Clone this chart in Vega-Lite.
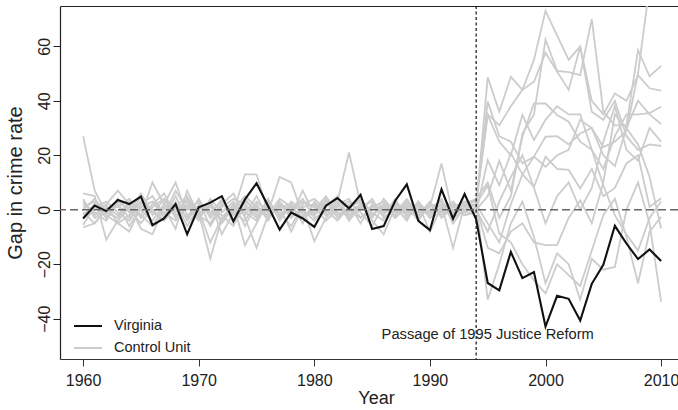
{
"$schema": "https://vega.github.io/schema/vega-lite/v6.json",
"width": 618,
"height": 353,
"autosize": {"type": "none"},
"padding": {"left": 60, "top": 6, "right": 0, "bottom": 51},
"background": "white",
"config": {"view": {"stroke": null}, "font": "Liberation Sans"},
"resolve": {"axis": {"x": "independent"}},
"datasets": {
"virginia": [
{"year":1960,"gap":-3.2},{"year":1961,"gap":1.5},{"year":1962,"gap":-0.5},{"year":1963,"gap":3.6},{"year":1964,"gap":2.1},{"year":1965,"gap":4.8},{"year":1966,"gap":-5.7},{"year":1967,"gap":-3.2},{"year":1968,"gap":2.1},{"year":1969,"gap":-9},{"year":1970,"gap":0.9},{"year":1971,"gap":2.6},{"year":1972,"gap":5},{"year":1973,"gap":-4.2},{"year":1974,"gap":3.8},{"year":1975,"gap":9.7},{"year":1976,"gap":1.4},{"year":1977,"gap":-7.3},{"year":1978,"gap":-1},{"year":1979,"gap":-3.2},{"year":1980,"gap":-6.3},{"year":1981,"gap":1.5},{"year":1982,"gap":4.3},{"year":1983,"gap":0.5},{"year":1984,"gap":5.5},{"year":1985,"gap":-7.1},{"year":1986,"gap":-6},{"year":1987,"gap":3.3},{"year":1988,"gap":9.3},{"year":1989,"gap":-4.1},{"year":1990,"gap":-7.5},{"year":1991,"gap":7.5},{"year":1992,"gap":-3.3},{"year":1993,"gap":5.8},{"year":1994,"gap":-3.5},{"year":1995,"gap":-26.9},{"year":1996,"gap":-29.6},{"year":1997,"gap":-15.5},{"year":1998,"gap":-25.1},{"year":1999,"gap":-22.9},{"year":2000,"gap":-42.9},{"year":2001,"gap":-31.6},{"year":2002,"gap":-32.7},{"year":2003,"gap":-40.7},{"year":2004,"gap":-27.2},{"year":2005,"gap":-20.2},{"year":2006,"gap":-5.9},{"year":2007,"gap":-12.4},{"year":2008,"gap":-18.1},{"year":2009,"gap":-14.6},{"year":2010,"gap":-18.8}
],
"controls": [
{"unit":"c1","year":1960,"gap":27},{"unit":"c1","year":1961,"gap":7},{"unit":"c1","year":1962,"gap":-1},{"unit":"c1","year":1963,"gap":2},{"unit":"c1","year":1964,"gap":-3},{"unit":"c1","year":1965,"gap":5},{"unit":"c1","year":1966,"gap":-2},{"unit":"c1","year":1967,"gap":4},{"unit":"c1","year":1968,"gap":0},{"unit":"c1","year":1969,"gap":3},{"unit":"c1","year":1970,"gap":-1},{"unit":"c1","year":1971,"gap":-18},{"unit":"c1","year":1972,"gap":-3},{"unit":"c1","year":1973,"gap":2},{"unit":"c1","year":1974,"gap":-13},{"unit":"c1","year":1975,"gap":-5},{"unit":"c1","year":1976,"gap":3},{"unit":"c1","year":1977,"gap":-2},{"unit":"c1","year":1978,"gap":1},{"unit":"c1","year":1979,"gap":-3},{"unit":"c1","year":1980,"gap":2},{"unit":"c1","year":1981,"gap":-1},{"unit":"c1","year":1982,"gap":3},{"unit":"c1","year":1983,"gap":21},{"unit":"c1","year":1984,"gap":2},{"unit":"c1","year":1985,"gap":-2},{"unit":"c1","year":1986,"gap":1},{"unit":"c1","year":1987,"gap":-3},{"unit":"c1","year":1988,"gap":2},{"unit":"c1","year":1989,"gap":-1},{"unit":"c1","year":1990,"gap":1},{"unit":"c1","year":1991,"gap":17},{"unit":"c1","year":1992,"gap":-2},{"unit":"c1","year":1993,"gap":1},{"unit":"c1","year":1994,"gap":2},{"unit":"c1","year":1995,"gap":35},{"unit":"c1","year":1996,"gap":31},{"unit":"c1","year":1997,"gap":38},{"unit":"c1","year":1998,"gap":44},{"unit":"c1","year":1999,"gap":55},{"unit":"c1","year":2000,"gap":73},{"unit":"c1","year":2001,"gap":64},{"unit":"c1","year":2002,"gap":55},{"unit":"c1","year":2003,"gap":60},{"unit":"c1","year":2004,"gap":36},{"unit":"c1","year":2005,"gap":33},{"unit":"c1","year":2006,"gap":40},{"unit":"c1","year":2007,"gap":27},{"unit":"c1","year":2008,"gap":22},{"unit":"c1","year":2009,"gap":24},{"unit":"c1","year":2010,"gap":23.4},
{"unit":"c2","year":1960,"gap":6},{"unit":"c2","year":1961,"gap":5},{"unit":"c2","year":1962,"gap":-11},{"unit":"c2","year":1963,"gap":-4},{"unit":"c2","year":1964,"gap":1},{"unit":"c2","year":1965,"gap":-2},{"unit":"c2","year":1966,"gap":10},{"unit":"c2","year":1967,"gap":2},{"unit":"c2","year":1968,"gap":10},{"unit":"c2","year":1969,"gap":-2},{"unit":"c2","year":1970,"gap":0},{"unit":"c2","year":1971,"gap":3},{"unit":"c2","year":1972,"gap":-9},{"unit":"c2","year":1973,"gap":-1},{"unit":"c2","year":1974,"gap":13},{"unit":"c2","year":1975,"gap":13},{"unit":"c2","year":1976,"gap":-1},{"unit":"c2","year":1977,"gap":12},{"unit":"c2","year":1978,"gap":10},{"unit":"c2","year":1979,"gap":-2},{"unit":"c2","year":1980,"gap":-1},{"unit":"c2","year":1981,"gap":4},{"unit":"c2","year":1982,"gap":-2},{"unit":"c2","year":1983,"gap":0},{"unit":"c2","year":1984,"gap":-3},{"unit":"c2","year":1985,"gap":1},{"unit":"c2","year":1986,"gap":3},{"unit":"c2","year":1987,"gap":-1},{"unit":"c2","year":1988,"gap":4},{"unit":"c2","year":1989,"gap":-2},{"unit":"c2","year":1990,"gap":0},{"unit":"c2","year":1991,"gap":2},{"unit":"c2","year":1992,"gap":-14},{"unit":"c2","year":1993,"gap":2},{"unit":"c2","year":1994,"gap":4},{"unit":"c2","year":1995,"gap":10},{"unit":"c2","year":1996,"gap":-3},{"unit":"c2","year":1997,"gap":5},{"unit":"c2","year":1998,"gap":28},{"unit":"c2","year":1999,"gap":35},{"unit":"c2","year":2000,"gap":62.5},{"unit":"c2","year":2001,"gap":51},{"unit":"c2","year":2002,"gap":50.5},{"unit":"c2","year":2003,"gap":49.4},{"unit":"c2","year":2004,"gap":70},{"unit":"c2","year":2005,"gap":36},{"unit":"c2","year":2006,"gap":31},{"unit":"c2","year":2007,"gap":31},{"unit":"c2","year":2008,"gap":58.6},{"unit":"c2","year":2009,"gap":49},{"unit":"c2","year":2010,"gap":52.8},
{"unit":"c3","year":1960,"gap":3},{"unit":"c3","year":1961,"gap":-2},{"unit":"c3","year":1962,"gap":2},{"unit":"c3","year":1963,"gap":7},{"unit":"c3","year":1964,"gap":2},{"unit":"c3","year":1965,"gap":-7},{"unit":"c3","year":1966,"gap":-9},{"unit":"c3","year":1967,"gap":1},{"unit":"c3","year":1968,"gap":-7},{"unit":"c3","year":1969,"gap":7},{"unit":"c3","year":1970,"gap":-2},{"unit":"c3","year":1971,"gap":-5},{"unit":"c3","year":1972,"gap":2},{"unit":"c3","year":1973,"gap":6},{"unit":"c3","year":1974,"gap":-3},{"unit":"c3","year":1975,"gap":-14},{"unit":"c3","year":1976,"gap":-2},{"unit":"c3","year":1977,"gap":1},{"unit":"c3","year":1978,"gap":-8},{"unit":"c3","year":1979,"gap":1},{"unit":"c3","year":1980,"gap":-11.5},{"unit":"c3","year":1981,"gap":-3},{"unit":"c3","year":1982,"gap":2},{"unit":"c3","year":1983,"gap":-2},{"unit":"c3","year":1984,"gap":1},{"unit":"c3","year":1985,"gap":3},{"unit":"c3","year":1986,"gap":-1},{"unit":"c3","year":1987,"gap":2},{"unit":"c3","year":1988,"gap":-2},{"unit":"c3","year":1989,"gap":3},{"unit":"c3","year":1990,"gap":-3},{"unit":"c3","year":1991,"gap":-1},{"unit":"c3","year":1992,"gap":2},{"unit":"c3","year":1993,"gap":-1},{"unit":"c3","year":1994,"gap":1},{"unit":"c3","year":1995,"gap":48.6},{"unit":"c3","year":1996,"gap":36},{"unit":"c3","year":1997,"gap":48.8},{"unit":"c3","year":1998,"gap":44},{"unit":"c3","year":1999,"gap":47},{"unit":"c3","year":2000,"gap":57.6},{"unit":"c3","year":2001,"gap":50.7},{"unit":"c3","year":2002,"gap":44},{"unit":"c3","year":2003,"gap":59.9},{"unit":"c3","year":2004,"gap":40},{"unit":"c3","year":2005,"gap":35},{"unit":"c3","year":2006,"gap":42.7},{"unit":"c3","year":2007,"gap":40},{"unit":"c3","year":2008,"gap":49.4},{"unit":"c3","year":2009,"gap":44.6},{"unit":"c3","year":2010,"gap":43.7},
{"unit":"c4","year":1960,"gap":1},{"unit":"c4","year":1961,"gap":3},{"unit":"c4","year":1962,"gap":-2},{"unit":"c4","year":1963,"gap":-5},{"unit":"c4","year":1964,"gap":-8},{"unit":"c4","year":1965,"gap":1},{"unit":"c4","year":1966,"gap":3},{"unit":"c4","year":1967,"gap":-3},{"unit":"c4","year":1968,"gap":5},{"unit":"c4","year":1969,"gap":-4},{"unit":"c4","year":1970,"gap":2},{"unit":"c4","year":1971,"gap":-2},{"unit":"c4","year":1972,"gap":4},{"unit":"c4","year":1973,"gap":-5},{"unit":"c4","year":1974,"gap":1},{"unit":"c4","year":1975,"gap":-3},{"unit":"c4","year":1976,"gap":4},{"unit":"c4","year":1977,"gap":-4},{"unit":"c4","year":1978,"gap":2},{"unit":"c4","year":1979,"gap":-5},{"unit":"c4","year":1980,"gap":3},{"unit":"c4","year":1981,"gap":-2},{"unit":"c4","year":1982,"gap":1},{"unit":"c4","year":1983,"gap":3},{"unit":"c4","year":1984,"gap":-1},{"unit":"c4","year":1985,"gap":-6},{"unit":"c4","year":1986,"gap":2},{"unit":"c4","year":1987,"gap":0},{"unit":"c4","year":1988,"gap":1},{"unit":"c4","year":1989,"gap":-3},{"unit":"c4","year":1990,"gap":2},{"unit":"c4","year":1991,"gap":-2},{"unit":"c4","year":1992,"gap":1},{"unit":"c4","year":1993,"gap":3},{"unit":"c4","year":1994,"gap":3},{"unit":"c4","year":1995,"gap":39.7},{"unit":"c4","year":1996,"gap":27},{"unit":"c4","year":1997,"gap":25},{"unit":"c4","year":1998,"gap":17},{"unit":"c4","year":1999,"gap":19.5},{"unit":"c4","year":2000,"gap":15.8},{"unit":"c4","year":2001,"gap":20},{"unit":"c4","year":2002,"gap":22},{"unit":"c4","year":2003,"gap":33},{"unit":"c4","year":2004,"gap":30},{"unit":"c4","year":2005,"gap":23},{"unit":"c4","year":2006,"gap":25},{"unit":"c4","year":2007,"gap":29},{"unit":"c4","year":2008,"gap":50},{"unit":"c4","year":2009,"gap":82},{"unit":"c4","year":2010,"gap":90},
{"unit":"c5","year":1960,"gap":-1},{"unit":"c5","year":1961,"gap":-5},{"unit":"c5","year":1962,"gap":0},{"unit":"c5","year":1963,"gap":1},{"unit":"c5","year":1964,"gap":4},{"unit":"c5","year":1965,"gap":-3},{"unit":"c5","year":1966,"gap":2},{"unit":"c5","year":1967,"gap":6},{"unit":"c5","year":1968,"gap":-2},{"unit":"c5","year":1969,"gap":1},{"unit":"c5","year":1970,"gap":-4},{"unit":"c5","year":1971,"gap":4},{"unit":"c5","year":1972,"gap":-1},{"unit":"c5","year":1973,"gap":3},{"unit":"c5","year":1974,"gap":-6},{"unit":"c5","year":1975,"gap":2},{"unit":"c5","year":1976,"gap":-4},{"unit":"c5","year":1977,"gap":3},{"unit":"c5","year":1978,"gap":-2},{"unit":"c5","year":1979,"gap":7},{"unit":"c5","year":1980,"gap":-2},{"unit":"c5","year":1981,"gap":3},{"unit":"c5","year":1982,"gap":-3},{"unit":"c5","year":1983,"gap":1},{"unit":"c5","year":1984,"gap":4},{"unit":"c5","year":1985,"gap":-1},{"unit":"c5","year":1986,"gap":-4},{"unit":"c5","year":1987,"gap":3},{"unit":"c5","year":1988,"gap":-1},{"unit":"c5","year":1989,"gap":2},{"unit":"c5","year":1990,"gap":-8},{"unit":"c5","year":1991,"gap":1},{"unit":"c5","year":1992,"gap":-3},{"unit":"c5","year":1993,"gap":0},{"unit":"c5","year":1994,"gap":0},{"unit":"c5","year":1995,"gap":5},{"unit":"c5","year":1996,"gap":18},{"unit":"c5","year":1997,"gap":7},{"unit":"c5","year":1998,"gap":26.8},{"unit":"c5","year":1999,"gap":39},{"unit":"c5","year":2000,"gap":39},{"unit":"c5","year":2001,"gap":34.8},{"unit":"c5","year":2002,"gap":32.3},{"unit":"c5","year":2003,"gap":25},{"unit":"c5","year":2004,"gap":22},{"unit":"c5","year":2005,"gap":15},{"unit":"c5","year":2006,"gap":27},{"unit":"c5","year":2007,"gap":35},{"unit":"c5","year":2008,"gap":35},{"unit":"c5","year":2009,"gap":35.5},{"unit":"c5","year":2010,"gap":37.8},
{"unit":"c6","year":1960,"gap":-2},{"unit":"c6","year":1961,"gap":2},{"unit":"c6","year":1962,"gap":-3},{"unit":"c6","year":1963,"gap":4},{"unit":"c6","year":1964,"gap":-1},{"unit":"c6","year":1965,"gap":6},{"unit":"c6","year":1966,"gap":-1},{"unit":"c6","year":1967,"gap":-4},{"unit":"c6","year":1968,"gap":3},{"unit":"c6","year":1969,"gap":-6},{"unit":"c6","year":1970,"gap":1},{"unit":"c6","year":1971,"gap":-1},{"unit":"c6","year":1972,"gap":3},{"unit":"c6","year":1973,"gap":-2},{"unit":"c6","year":1974,"gap":4},{"unit":"c6","year":1975,"gap":-1},{"unit":"c6","year":1976,"gap":2},{"unit":"c6","year":1977,"gap":-3},{"unit":"c6","year":1978,"gap":3},{"unit":"c6","year":1979,"gap":0},{"unit":"c6","year":1980,"gap":-4},{"unit":"c6","year":1981,"gap":1},{"unit":"c6","year":1982,"gap":5},{"unit":"c6","year":1983,"gap":-3},{"unit":"c6","year":1984,"gap":2},{"unit":"c6","year":1985,"gap":0},{"unit":"c6","year":1986,"gap":1},{"unit":"c6","year":1987,"gap":-2},{"unit":"c6","year":1988,"gap":3},{"unit":"c6","year":1989,"gap":-1},{"unit":"c6","year":1990,"gap":1},{"unit":"c6","year":1991,"gap":3},{"unit":"c6","year":1992,"gap":-1},{"unit":"c6","year":1993,"gap":2},{"unit":"c6","year":1994,"gap":2},{"unit":"c6","year":1995,"gap":-5},{"unit":"c6","year":1996,"gap":-12},{"unit":"c6","year":1997,"gap":2},{"unit":"c6","year":1998,"gap":13},{"unit":"c6","year":1999,"gap":19.5},{"unit":"c6","year":2000,"gap":26.8},{"unit":"c6","year":2001,"gap":27},{"unit":"c6","year":2002,"gap":24},{"unit":"c6","year":2003,"gap":28},{"unit":"c6","year":2004,"gap":30},{"unit":"c6","year":2005,"gap":20},{"unit":"c6","year":2006,"gap":16},{"unit":"c6","year":2007,"gap":30},{"unit":"c6","year":2008,"gap":40},{"unit":"c6","year":2009,"gap":35},{"unit":"c6","year":2010,"gap":31.5},
{"unit":"c7","year":1960,"gap":-6.5},{"unit":"c7","year":1961,"gap":-5},{"unit":"c7","year":1962,"gap":1},{"unit":"c7","year":1963,"gap":-2},{"unit":"c7","year":1964,"gap":3},{"unit":"c7","year":1965,"gap":0},{"unit":"c7","year":1966,"gap":-4},{"unit":"c7","year":1967,"gap":2},{"unit":"c7","year":1968,"gap":-1},{"unit":"c7","year":1969,"gap":4},{"unit":"c7","year":1970,"gap":-3},{"unit":"c7","year":1971,"gap":2},{"unit":"c7","year":1972,"gap":-5},{"unit":"c7","year":1973,"gap":1},{"unit":"c7","year":1974,"gap":-2},{"unit":"c7","year":1975,"gap":5},{"unit":"c7","year":1976,"gap":-3},{"unit":"c7","year":1977,"gap":2},{"unit":"c7","year":1978,"gap":-1},{"unit":"c7","year":1979,"gap":3},{"unit":"c7","year":1980,"gap":1},{"unit":"c7","year":1981,"gap":-4},{"unit":"c7","year":1982,"gap":0},{"unit":"c7","year":1983,"gap":2},{"unit":"c7","year":1984,"gap":-5},{"unit":"c7","year":1985,"gap":2},{"unit":"c7","year":1986,"gap":-2},{"unit":"c7","year":1987,"gap":4},{"unit":"c7","year":1988,"gap":-3},{"unit":"c7","year":1989,"gap":1},{"unit":"c7","year":1990,"gap":-1},{"unit":"c7","year":1991,"gap":0},{"unit":"c7","year":1992,"gap":3},{"unit":"c7","year":1993,"gap":-2},{"unit":"c7","year":1994,"gap":-1},{"unit":"c7","year":1995,"gap":18.2},{"unit":"c7","year":1996,"gap":9},{"unit":"c7","year":1997,"gap":20.7},{"unit":"c7","year":1998,"gap":13},{"unit":"c7","year":1999,"gap":8.4},{"unit":"c7","year":2000,"gap":19.5},{"unit":"c7","year":2001,"gap":15},{"unit":"c7","year":2002,"gap":14.6},{"unit":"c7","year":2003,"gap":7.8},{"unit":"c7","year":2004,"gap":15},{"unit":"c7","year":2005,"gap":5},{"unit":"c7","year":2006,"gap":8},{"unit":"c7","year":2007,"gap":17},{"unit":"c7","year":2008,"gap":20},{"unit":"c7","year":2009,"gap":1},{"unit":"c7","year":2010,"gap":4.2},
{"unit":"c8","year":1960,"gap":-5.5},{"unit":"c8","year":1961,"gap":1},{"unit":"c8","year":1962,"gap":3},{"unit":"c8","year":1963,"gap":-1},{"unit":"c8","year":1964,"gap":-4},{"unit":"c8","year":1965,"gap":2},{"unit":"c8","year":1966,"gap":5},{"unit":"c8","year":1967,"gap":-2},{"unit":"c8","year":1968,"gap":7},{"unit":"c8","year":1969,"gap":0},{"unit":"c8","year":1970,"gap":3},{"unit":"c8","year":1971,"gap":-6},{"unit":"c8","year":1972,"gap":1},{"unit":"c8","year":1973,"gap":4},{"unit":"c8","year":1974,"gap":2},{"unit":"c8","year":1975,"gap":-2},{"unit":"c8","year":1976,"gap":1},{"unit":"c8","year":1977,"gap":-1},{"unit":"c8","year":1978,"gap":-6},{"unit":"c8","year":1979,"gap":2},{"unit":"c8","year":1980,"gap":4},{"unit":"c8","year":1981,"gap":0},{"unit":"c8","year":1982,"gap":-4},{"unit":"c8","year":1983,"gap":1},{"unit":"c8","year":1984,"gap":3},{"unit":"c8","year":1985,"gap":-3},{"unit":"c8","year":1986,"gap":4},{"unit":"c8","year":1987,"gap":-1},{"unit":"c8","year":1988,"gap":2},{"unit":"c8","year":1989,"gap":-2},{"unit":"c8","year":1990,"gap":3},{"unit":"c8","year":1991,"gap":-3},{"unit":"c8","year":1992,"gap":1},{"unit":"c8","year":1993,"gap":-1},{"unit":"c8","year":1994,"gap":1},{"unit":"c8","year":1995,"gap":-14},{"unit":"c8","year":1996,"gap":-16},{"unit":"c8","year":1997,"gap":-8},{"unit":"c8","year":1998,"gap":-5},{"unit":"c8","year":1999,"gap":-12},{"unit":"c8","year":2000,"gap":-13},{"unit":"c8","year":2001,"gap":-13},{"unit":"c8","year":2002,"gap":-3},{"unit":"c8","year":2003,"gap":3.5},{"unit":"c8","year":2004,"gap":-5},{"unit":"c8","year":2005,"gap":10},{"unit":"c8","year":2006,"gap":35},{"unit":"c8","year":2007,"gap":30},{"unit":"c8","year":2008,"gap":24},{"unit":"c8","year":2009,"gap":12},{"unit":"c8","year":2010,"gap":-6.9},
{"unit":"c9","year":1960,"gap":2},{"unit":"c9","year":1961,"gap":-1},{"unit":"c9","year":1962,"gap":-4},{"unit":"c9","year":1963,"gap":3},{"unit":"c9","year":1964,"gap":0},{"unit":"c9","year":1965,"gap":-5},{"unit":"c9","year":1966,"gap":1},{"unit":"c9","year":1967,"gap":4},{"unit":"c9","year":1968,"gap":-3},{"unit":"c9","year":1969,"gap":2},{"unit":"c9","year":1970,"gap":-1},{"unit":"c9","year":1971,"gap":1},{"unit":"c9","year":1972,"gap":-2},{"unit":"c9","year":1973,"gap":-6},{"unit":"c9","year":1974,"gap":3},{"unit":"c9","year":1975,"gap":0},{"unit":"c9","year":1976,"gap":-2},{"unit":"c9","year":1977,"gap":4},{"unit":"c9","year":1978,"gap":1},{"unit":"c9","year":1979,"gap":-3},{"unit":"c9","year":1980,"gap":0},{"unit":"c9","year":1981,"gap":5},{"unit":"c9","year":1982,"gap":-1},{"unit":"c9","year":1983,"gap":-2},{"unit":"c9","year":1984,"gap":0},{"unit":"c9","year":1985,"gap":4},{"unit":"c9","year":1986,"gap":-3},{"unit":"c9","year":1987,"gap":1},{"unit":"c9","year":1988,"gap":-4},{"unit":"c9","year":1989,"gap":3},{"unit":"c9","year":1990,"gap":-2},{"unit":"c9","year":1991,"gap":2},{"unit":"c9","year":1992,"gap":-2},{"unit":"c9","year":1993,"gap":3},{"unit":"c9","year":1994,"gap":3},{"unit":"c9","year":1995,"gap":-33},{"unit":"c9","year":1996,"gap":-20},{"unit":"c9","year":1997,"gap":-5},{"unit":"c9","year":1998,"gap":3},{"unit":"c9","year":1999,"gap":-10},{"unit":"c9","year":2000,"gap":-27},{"unit":"c9","year":2001,"gap":-16},{"unit":"c9","year":2002,"gap":-20},{"unit":"c9","year":2003,"gap":-33},{"unit":"c9","year":2004,"gap":-18},{"unit":"c9","year":2005,"gap":-22},{"unit":"c9","year":2006,"gap":-21},{"unit":"c9","year":2007,"gap":0},{"unit":"c9","year":2008,"gap":10},{"unit":"c9","year":2009,"gap":-5},{"unit":"c9","year":2010,"gap":-33.8},
{"unit":"c10","year":1960,"gap":0},{"unit":"c10","year":1961,"gap":4},{"unit":"c10","year":1962,"gap":-1},{"unit":"c10","year":1963,"gap":-3},{"unit":"c10","year":1964,"gap":2},{"unit":"c10","year":1965,"gap":-2},{"unit":"c10","year":1966,"gap":-6},{"unit":"c10","year":1967,"gap":1},{"unit":"c10","year":1968,"gap":2},{"unit":"c10","year":1969,"gap":-3},{"unit":"c10","year":1970,"gap":4},{"unit":"c10","year":1971,"gap":-3},{"unit":"c10","year":1972,"gap":2},{"unit":"c10","year":1973,"gap":-1},{"unit":"c10","year":1974,"gap":-4},{"unit":"c10","year":1975,"gap":3},{"unit":"c10","year":1976,"gap":-1},{"unit":"c10","year":1977,"gap":1},{"unit":"c10","year":1978,"gap":2},{"unit":"c10","year":1979,"gap":-1},{"unit":"c10","year":1980,"gap":-2},{"unit":"c10","year":1981,"gap":2},{"unit":"c10","year":1982,"gap":3},{"unit":"c10","year":1983,"gap":-4},{"unit":"c10","year":1984,"gap":1},{"unit":"c10","year":1985,"gap":-2},{"unit":"c10","year":1986,"gap":2},{"unit":"c10","year":1987,"gap":-3},{"unit":"c10","year":1988,"gap":1},{"unit":"c10","year":1989,"gap":-4},{"unit":"c10","year":1990,"gap":2},{"unit":"c10","year":1991,"gap":-1},{"unit":"c10","year":1992,"gap":2},{"unit":"c10","year":1993,"gap":0},{"unit":"c10","year":1994,"gap":2},{"unit":"c10","year":1995,"gap":9},{"unit":"c10","year":1996,"gap":-8.7},{"unit":"c10","year":1997,"gap":-12},{"unit":"c10","year":1998,"gap":-20},{"unit":"c10","year":1999,"gap":-26},{"unit":"c10","year":2000,"gap":-30.7},{"unit":"c10","year":2001,"gap":-20},{"unit":"c10","year":2002,"gap":-24},{"unit":"c10","year":2003,"gap":-28},{"unit":"c10","year":2004,"gap":-15},{"unit":"c10","year":2005,"gap":-2},{"unit":"c10","year":2006,"gap":4},{"unit":"c10","year":2007,"gap":-10},{"unit":"c10","year":2008,"gap":-27},{"unit":"c10","year":2009,"gap":-8},{"unit":"c10","year":2010,"gap":-2.6},
{"unit":"c11","year":1960,"gap":-3},{"unit":"c11","year":1961,"gap":0},{"unit":"c11","year":1962,"gap":2},{"unit":"c11","year":1963,"gap":-5},{"unit":"c11","year":1964,"gap":-2},{"unit":"c11","year":1965,"gap":3},{"unit":"c11","year":1966,"gap":0},{"unit":"c11","year":1967,"gap":-4},{"unit":"c11","year":1968,"gap":1},{"unit":"c11","year":1969,"gap":5},{"unit":"c11","year":1970,"gap":-2},{"unit":"c11","year":1971,"gap":3},{"unit":"c11","year":1972,"gap":-4},{"unit":"c11","year":1973,"gap":2},{"unit":"c11","year":1974,"gap":-1},{"unit":"c11","year":1975,"gap":-4},{"unit":"c11","year":1976,"gap":3},{"unit":"c11","year":1977,"gap":-2},{"unit":"c11","year":1978,"gap":0},{"unit":"c11","year":1979,"gap":4},{"unit":"c11","year":1980,"gap":-3},{"unit":"c11","year":1981,"gap":-1},{"unit":"c11","year":1982,"gap":2},{"unit":"c11","year":1983,"gap":4},{"unit":"c11","year":1984,"gap":-3},{"unit":"c11","year":1985,"gap":1},{"unit":"c11","year":1986,"gap":0},{"unit":"c11","year":1987,"gap":2},{"unit":"c11","year":1988,"gap":-2},{"unit":"c11","year":1989,"gap":1},{"unit":"c11","year":1990,"gap":-1},{"unit":"c11","year":1991,"gap":4},{"unit":"c11","year":1992,"gap":-5},{"unit":"c11","year":1993,"gap":1},{"unit":"c11","year":1994,"gap":4},{"unit":"c11","year":1995,"gap":34.8},{"unit":"c11","year":1996,"gap":25},{"unit":"c11","year":1997,"gap":20},{"unit":"c11","year":1998,"gap":34.8},{"unit":"c11","year":1999,"gap":25.6},{"unit":"c11","year":2000,"gap":33},{"unit":"c11","year":2001,"gap":38},{"unit":"c11","year":2002,"gap":35},{"unit":"c11","year":2003,"gap":35},{"unit":"c11","year":2004,"gap":22},{"unit":"c11","year":2005,"gap":9},{"unit":"c11","year":2006,"gap":-2},{"unit":"c11","year":2007,"gap":-9},{"unit":"c11","year":2008,"gap":-15},{"unit":"c11","year":2009,"gap":-3},{"unit":"c11","year":2010,"gap":3},
{"unit":"c12","year":1960,"gap":4},{"unit":"c12","year":1961,"gap":-3},{"unit":"c12","year":1962,"gap":0},{"unit":"c12","year":1963,"gap":2},{"unit":"c12","year":1964,"gap":-6},{"unit":"c12","year":1965,"gap":1},{"unit":"c12","year":1966,"gap":3},{"unit":"c12","year":1967,"gap":-1},{"unit":"c12","year":1968,"gap":-4},{"unit":"c12","year":1969,"gap":1},{"unit":"c12","year":1970,"gap":0},{"unit":"c12","year":1971,"gap":-12},{"unit":"c12","year":1972,"gap":-3},{"unit":"c12","year":1973,"gap":0},{"unit":"c12","year":1974,"gap":5},{"unit":"c12","year":1975,"gap":1},{"unit":"c12","year":1976,"gap":-3},{"unit":"c12","year":1977,"gap":2},{"unit":"c12","year":1978,"gap":-3},{"unit":"c12","year":1979,"gap":1},{"unit":"c12","year":1980,"gap":2},{"unit":"c12","year":1981,"gap":-2},{"unit":"c12","year":1982,"gap":0},{"unit":"c12","year":1983,"gap":-1},{"unit":"c12","year":1984,"gap":2},{"unit":"c12","year":1985,"gap":-4},{"unit":"c12","year":1986,"gap":-9},{"unit":"c12","year":1987,"gap":1},{"unit":"c12","year":1988,"gap":-1},{"unit":"c12","year":1989,"gap":2},{"unit":"c12","year":1990,"gap":-3},{"unit":"c12","year":1991,"gap":1},{"unit":"c12","year":1992,"gap":0},{"unit":"c12","year":1993,"gap":-2},{"unit":"c12","year":1994,"gap":0},{"unit":"c12","year":1995,"gap":-8},{"unit":"c12","year":1996,"gap":3},{"unit":"c12","year":1997,"gap":12},{"unit":"c12","year":1998,"gap":20},{"unit":"c12","year":1999,"gap":8},{"unit":"c12","year":2000,"gap":-5},{"unit":"c12","year":2001,"gap":5},{"unit":"c12","year":2002,"gap":10},{"unit":"c12","year":2003,"gap":0},{"unit":"c12","year":2004,"gap":8},{"unit":"c12","year":2005,"gap":25},{"unit":"c12","year":2006,"gap":38},{"unit":"c12","year":2007,"gap":22},{"unit":"c12","year":2008,"gap":18},{"unit":"c12","year":2009,"gap":30},{"unit":"c12","year":2010,"gap":25}
]
},
"layer": [
{
"data": {"name": "controls"},
"mark": {"type": "line", "strokeWidth": 1.8, "clip": true},
"encoding": {
"x": {"field": "year", "type": "quantitative",
  "scale": {"domain": [1958, 2011.46], "nice": false, "zero": false},
  "axis": {"values": [1960, 1970, 1980, 1990, 2000, 2010], "format": "d", "grid": false,
    "title": "Year", "titleFontSize": 18, "titleFontWeight": "normal", "titleColor": "#222",
    "titleX": 316, "titleY": 44, "titleBaseline": "alphabetic", "titleAlign": "center",
    "labelFontSize": 16, "labelColor": "#222", "labelBaseline": "alphabetic", "labelPadding": 19,
    "labelFlush": false, "labelOverlap": false,
    "tickSize": 7, "tickColor": "#333", "domainColor": "#333", "tickWidth": 1, "domainWidth": 1.2}},
"y": {"field": "gap", "type": "quantitative",
  "scale": {"domain": [-54.8, 74.8], "nice": false, "zero": false},
  "axis": {"values": [-40, -20, 0, 20, 40, 60], "grid": false,
    "title": "Gap in crime rate", "titleFontSize": 20, "titleFontWeight": "normal", "titleColor": "#222",
    "titleAngle": -90, "titleX": -45, "titleY": 176.5, "titleAlign": "center", "titleBaseline": "middle",
    "labelAngle": -90, "labelAlign": "center", "labelBaseline": "alphabetic", "labelPadding": 4,
    "labelFontSize": 16, "labelColor": "#222", "labelFlush": false, "labelOverlap": false,
    "tickSize": 7, "tickColor": "#222", "domainColor": "#222", "domainWidth": 1.2}},
"detail": {"field": "unit"},
"color": {"datum": "Control Unit", "type": "nominal",
  "scale": {"domain": ["Virginia", "Control Unit"], "range": ["#111111", "#cccccc"]},
  "legend": {"orient": "none", "legendX": 13, "legendY": 305, "title": null,
    "symbolType": "stroke", "symbolSize": 784, "symbolStrokeWidth": 2,
    "labelFontSize": 14.5, "labelColor": "#222", "labelOffset": 11, "rowPadding": -15, "padding": 0}}
}
},
{
"data": {"name": "virginia"},
"mark": {"type": "line", "strokeWidth": 2.1, "clip": true},
"encoding": {
"x": {"field": "year", "type": "quantitative", "axis": null},
"y": {"field": "gap", "type": "quantitative"},
"color": {"datum": "Virginia", "type": "nominal"}
}
},
{
"data": {"values": [{"gap": 0}]},
"mark": {"type": "rule", "color": "#666666", "strokeWidth": 1.4, "strokeDash": [8, 4]},
"encoding": {"y": {"field": "gap", "type": "quantitative"}}
},
{
"data": {"values": [{"year": 1994}]},
"mark": {"type": "rule", "color": "#111111", "strokeWidth": 1.2, "strokeDash": [3, 2.5]},
"encoding": {"x": {"field": "year", "type": "quantitative",
  "axis": {"orient": "top", "labels": false, "ticks": false, "title": null, "grid": false, "domain": true, "domainColor": "#222", "domainWidth": 1.2}}}
},
{
"data": {"values": [{"year": 1995, "gap": -47.6, "label": "Passage of 1995 Justice Reform"}]},
"mark": {"type": "text", "fontSize": 14.7, "align": "center", "baseline": "alphabetic", "color": "#222"},
"encoding": {
"x": {"field": "year", "type": "quantitative", "axis": null},
"y": {"field": "gap", "type": "quantitative"},
"text": {"field": "label"}
}
}
]
}
